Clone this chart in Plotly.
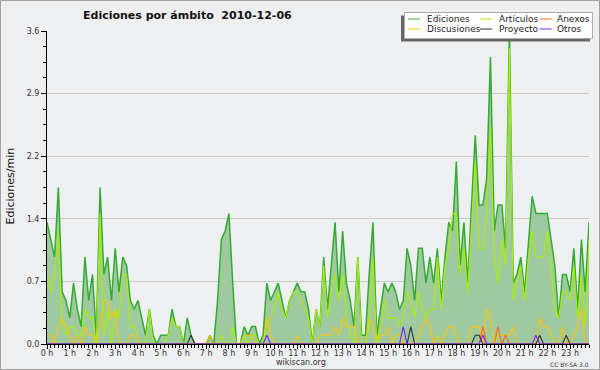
import plotly.graph_objects as go

# ---- data (10-minute slots, edits per minute) ----
slot_minutes = list(range(0, 1440, 10))

ediciones = [
    1.4, 1.2, 1.0, 1.8, 0.6, 0.5, 0.3, 0.7, 0.4, 0.2, 1.0, 0.5,
    0.8, 0.1, 1.8, 0.8, 1.0, 0.5, 1.1, 0.6, 1.0, 0.9, 0.5, 0.4,
    0.5, 0.3, 0.1, 0.4, 0.1, 0.0, 0.1, 0.1, 0.1, 0.4, 0.2, 0.2,
    0.0, 0.3, 0.1, 0.0, 0.0, 0.0, 0.0, 0.1, 0.0, 0.5, 1.2, 1.3,
    1.5, 0.7, 0.0, 0.0, 0.2, 0.1, 0.2, 0.2, 0.0, 0.1, 0.7, 0.5,
    0.6, 0.7, 0.5, 0.3, 0.5, 0.6, 0.7, 0.6, 0.6, 0.4, 0.0, 0.4,
    0.2, 1.0, 0.4, 0.9, 1.4, 0.6, 1.3, 0.7, 0.5, 0.2, 1.0, 0.1,
    0.1, 0.8, 1.4, 0.1, 0.4, 0.7, 0.6, 0.7, 0.6, 0.4, 0.5, 1.1,
    0.9, 0.5, 1.1, 1.1, 0.7, 1.0, 0.7, 1.1, 0.5, 1.0, 1.4, 1.3,
    2.1, 0.9, 1.4, 0.7, 1.6, 2.4, 1.6, 1.6, 1.9, 3.3, 1.3, 1.6,
    1.6, 1.1, 3.6, 0.7, 0.8, 1.0, 0.6, 1.2, 1.7, 1.5, 1.5, 1.5,
    1.5, 1.2, 0.9, 0.3, 0.8, 0.8, 0.6, 1.1, 0.4, 1.2, 0.6, 1.4,
]

articulos = [
    0.8, 0.6, 0.8, 1.3, 0.2, 0.1, 0.2, 0.2, 0.1, 0.1, 0.4, 0.3,
    0.3, 0.0, 1.5, 0.1, 0.4, 0.0, 0.4, 0.3, 0.8, 0.8, 0.2, 0.2,
    0.1, 0.0, 0.0, 0.4, 0.0, 0.0, 0.0, 0.0, 0.1, 0.3, 0.2, 0.2,
    0.0, 0.0, 0.0, 0.0, 0.0, 0.0, 0.0, 0.0, 0.0, 0.0, 0.1, 0.0,
    0.0, 0.2, 0.0, 0.0, 0.1, 0.0, 0.1, 0.1, 0.0, 0.0, 0.2, 0.3,
    0.4, 0.6, 0.4, 0.3, 0.5, 0.6, 0.6, 0.5, 0.4, 0.3, 0.0, 0.4,
    0.2, 0.9, 0.3, 0.6, 0.8, 0.5, 0.8, 0.3, 0.1, 0.0, 1.0, 0.0,
    0.0, 0.2, 1.0, 0.0, 0.2, 0.5, 0.3, 0.3, 0.3, 0.2, 0.3, 0.6,
    0.5, 0.3, 0.6, 0.4, 0.3, 0.4, 0.4, 1.0, 0.4, 0.9, 1.1, 1.5,
    1.5, 0.8, 1.1, 0.6, 1.3, 2.1, 1.1, 1.1, 1.5, 2.5, 1.0, 0.7,
    1.2, 0.9, 3.4, 0.5, 0.7, 0.9, 0.5, 1.0, 1.3, 1.0, 1.0, 1.0,
    1.3, 0.9, 0.4, 0.3, 0.6, 0.6, 0.5, 0.9, 0.3, 0.8, 0.2, 1.2,
]

discusiones = [
    0.1, 0.1, 0.0, 0.2, 0.3, 0.2, 0.1, 0.0, 0.1, 0.0, 0.2, 0.1,
    0.1, 0.0, 0.2, 0.5, 0.5, 0.3, 0.4, 0.0, 0.0, 0.0, 0.1, 0.1,
    0.0, 0.0, 0.0, 0.0, 0.0, 0.0, 0.0, 0.0, 0.0, 0.0, 0.0, 0.0,
    0.0, 0.0, 0.0, 0.0, 0.0, 0.0, 0.0, 0.1, 0.0, 0.0, 0.0, 0.0,
    0.0, 0.0, 0.0, 0.0, 0.1, 0.1, 0.1, 0.0, 0.0, 0.0, 0.3, 0.1,
    0.0, 0.0, 0.0, 0.0, 0.0, 0.0, 0.1, 0.0, 0.0, 0.0, 0.0, 0.0,
    0.1, 0.1, 0.1, 0.1, 0.2, 0.1, 0.3, 0.2, 0.2, 0.2, 0.0, 0.0,
    0.0, 0.3, 0.2, 0.0, 0.1, 0.1, 0.2, 0.0, 0.1, 0.1, 0.0, 0.0,
    0.0, 0.0, 0.1, 0.2, 0.3, 0.2, 0.0, 0.1, 0.0, 0.1, 0.2, 0.2,
    0.1, 0.0, 0.0, 0.0, 0.2, 0.2, 0.2, 0.0, 0.4, 0.3, 0.0, 0.1,
    0.1, 0.1, 0.1, 0.2, 0.0, 0.0, 0.0, 0.0, 0.0, 0.0, 0.3, 0.2,
    0.2, 0.1, 0.0, 0.0, 0.2, 0.0, 0.0, 0.1, 0.2, 0.4, 0.0, 0.0,
]

anexos = [
    0, 0, 0, 0, 0, 0, 0, 0, 0, 0, 0, 0,
    0, 0, 0, 0, 0, 0, 0, 0, 0, 0, 0, 0,
    0, 0, 0, 0, 0, 0, 0, 0, 0, 0, 0, 0,
    0, 0, 0, 0, 0, 0, 0, 0, 0, 0, 0, 0,
    0, 0, 0, 0, 0, 0, 0, 0, 0, 0, 0, 0,
    0, 0, 0, 0, 0, 0, 0, 0, 0, 0, 0, 0,
    0, 0, 0, 0, 0, 0, 0, 0, 0, 0, 0, 0,
    0, 0, 0, 0, 0, 0, 0, 0, 0, 0, 0, 0,
    0, 0, 0, 0, 0, 0, 0, 0, 0, 0, 0, 0,
    0, 0, 0, 0, 0, 0, 0, 0.2, 0, 0, 0, 0.2,
    0, 0.1, 0, 0, 0, 0, 0, 0, 0, 0, 0, 0,
    0, 0, 0, 0, 0, 0, 0, 0, 0, 0, 0, 0,
]

proyecto = [
    0, 0, 0, 0, 0, 0, 0, 0, 0, 0, 0, 0,
    0, 0, 0, 0, 0, 0, 0, 0, 0, 0, 0, 0,
    0, 0, 0, 0, 0, 0, 0, 0, 0, 0, 0, 0,
    0, 0, 0.1, 0, 0, 0, 0, 0, 0, 0, 0, 0,
    0, 0, 0, 0, 0, 0, 0, 0, 0, 0, 0, 0,
    0, 0, 0, 0, 0, 0, 0, 0, 0, 0, 0, 0,
    0, 0, 0, 0, 0, 0, 0, 0, 0, 0, 0, 0,
    0, 0, 0, 0, 0, 0, 0, 0, 0, 0, 0, 0,
    0.2, 0, 0, 0, 0, 0, 0, 0, 0, 0, 0, 0,
    0, 0, 0, 0, 0, 0.1, 0.1, 0, 0, 0, 0, 0,
    0, 0, 0, 0, 0, 0, 0, 0, 0, 0, 0.1, 0,
    0, 0, 0, 0, 0, 0.1, 0, 0, 0, 0, 0, 0,
]

otros = [
    0, 0, 0, 0, 0, 0, 0, 0, 0, 0, 0, 0,
    0, 0, 0, 0, 0, 0, 0, 0, 0, 0, 0, 0,
    0, 0, 0, 0, 0, 0, 0, 0, 0, 0, 0, 0,
    0, 0, 0, 0, 0, 0, 0, 0, 0, 0, 0, 0,
    0, 0, 0, 0, 0, 0, 0, 0, 0, 0, 0.1, 0,
    0, 0, 0, 0, 0, 0, 0, 0, 0, 0, 0, 0,
    0, 0, 0, 0, 0, 0, 0, 0, 0, 0, 0, 0,
    0, 0, 0, 0, 0, 0, 0, 0, 0, 0, 0.2, 0,
    0, 0, 0, 0, 0, 0, 0, 0, 0, 0, 0, 0,
    0, 0, 0, 0, 0, 0, 0, 0.1, 0, 0, 0, 0,
    0, 0, 0, 0, 0, 0, 0, 0, 0, 0.1, 0, 0,
    0, 0, 0, 0, 0, 0, 0, 0, 0, 0, 0, 0,
]

hour_ticks = list(range(0, 1440, 60))
hour_labels = ["0 h", "1 h", "2 h", "3 h", "4 h", "5 h", "6 h", "7 h", "8 h", "9 h",
               "10 h", "11 h", "12 h", "13 h", "14 h", "15 h", "16 h", "17 h", "18 h",
               "19 h", "20 h", "21 h", "22 h", "23 h"]
y_ticks = [0.0, 0.72, 1.44, 2.16, 2.88, 3.6]
y_labels = ["0.0", "0.7", "1.4", "2.2", "2.9", "3.6"]

series_names = ["Ediciones", "Artículos", "Anexos", "Discusiones", "Proyecto", "Otros"]
series_colors = {"Ediciones": "#33aa33", "Artículos": "#aaee00", "Anexos": "#ff6a1a",
                 "Discusiones": "#ffc400", "Proyecto": "#333333", "Otros": "#7a22ff"}

# ---- layout geometry (pixels) ----
W, H = 600, 370
L, R, T, B = 47, 11, 31, 26
PW, PH = W - L - R, H - T - B
BG = "#eeeff1"


def px(x):
    return (x - L) / PW


def py(y):
    return (H - B - y) / PH


fig = go.Figure()
fig.add_trace(go.Scatter(x=slot_minutes, y=ediciones, mode="lines", name="Ediciones",
                         fill="tozeroy", fillcolor="#9fca9f",
                         line=dict(color=series_colors["Ediciones"], width=1.5)))
fig.add_trace(go.Scatter(x=slot_minutes, y=discusiones, mode="lines", name="Discusiones",
                         line=dict(color=series_colors["Discusiones"], width=1.1)))
fig.add_trace(go.Scatter(x=slot_minutes, y=articulos, mode="lines", name="Artículos",
                         line=dict(color=series_colors["Artículos"], width=1.1)))
fig.add_trace(go.Scatter(x=slot_minutes, y=anexos, mode="lines", name="Anexos",
                         line=dict(color=series_colors["Anexos"], width=1.1)))
fig.add_trace(go.Scatter(x=slot_minutes, y=proyecto, mode="lines", name="Proyecto",
                         line=dict(color=series_colors["Proyecto"], width=1.1)))
fig.add_trace(go.Scatter(x=slot_minutes, y=otros, mode="lines", name="Otros",
                         line=dict(color=series_colors["Otros"], width=1.1)))

fig.update_layout(
    width=W, height=H, margin=dict(l=L, r=R, t=T, b=B, pad=0),
    paper_bgcolor=BG, plot_bgcolor=BG, showlegend=False,
    font=dict(family="DejaVu Sans", size=8, color="#333333"),
)
fig.update_xaxes(
    range=[0, 1430], tickmode="array", tickvals=hour_ticks, ticktext=hour_labels,
    ticks="outside", ticklen=4, tickwidth=1, tickcolor="black",
    showline=True, linecolor="black", linewidth=1, showgrid=False, zeroline=False,
    tickfont=dict(size=8, color="#333333"), ticklabelstandoff=-3,
    minor=dict(dtick=10, tick0=0, ticks="outside", ticklen=3, tickcolor="black", showgrid=False),
)
fig.update_yaxes(
    range=[0, 3.6], tickmode="array", tickvals=y_ticks, ticktext=y_labels,
    ticks="outside", ticklen=5, tickwidth=1, tickcolor="black",
    showline=True, linecolor="black", linewidth=1,
    showgrid=True, gridcolor="#c8c8c8", gridwidth=1, zeroline=False,
    tickfont=dict(size=8, color="#333333"),
    minor=dict(dtick=0.18, tick0=0, ticks="outside", ticklen=3, tickcolor="black", showgrid=False),
)

shapes = []
annotations = []

# outer border of the image
shapes.append(dict(type="rect", xref="paper", yref="paper", layer="above",
                   x0=px(0.5), x1=px(W - 0.5), y0=py(H - 0.5), y1=py(0.5),
                   line=dict(color="#a0a0a0", width=1), fillcolor="rgba(0,0,0,0)"))

# title, axis title, credits
annotations.append(dict(text="<b>Ediciones por ámbito\u00a0 2010-12-06</b>", xref="paper", yref="paper",
                        x=px(188), y=py(16), xanchor="center", yanchor="middle", showarrow=False,
                        font=dict(family="DejaVu Sans", size=11, color="#111111")))
annotations.append(dict(text="Ediciones/min", xref="paper", yref="paper", textangle=-90,
                        x=px(9.5), y=py(186), xanchor="center", yanchor="middle", showarrow=False,
                        font=dict(family="DejaVu Sans", size=11, color="#111111")))
annotations.append(dict(text="wikiscan.org", xref="paper", yref="paper",
                        x=px(301), y=py(362.5), xanchor="center", yanchor="middle", showarrow=False,
                        font=dict(family="DejaVu Sans", size=8, color="#333333")))
annotations.append(dict(text="CC BY-SA 3.0", xref="paper", yref="paper",
                        x=px(591), y=py(364), xanchor="right", yanchor="middle", showarrow=False,
                        font=dict(family="DejaVu Sans", size=6, color="#333333")))

# legend box with shadow
shapes.append(dict(type="rect", xref="paper", yref="paper", layer="above",
                   x0=px(401), x1=px(590), y0=py(41.5), y1=py(15.5),
                   line=dict(width=0), fillcolor="#666666"))
shapes.append(dict(type="rect", xref="paper", yref="paper", layer="above",
                   x0=px(404.5), x1=px(592.5), y0=py(38.5), y1=py(12.5),
                   line=dict(color="#aaaaaa", width=1), fillcolor="white"))

legend_cols = [(408, 424.5), (480, 496.5), (539.5, 555)]
legend_rows = [19, 29]
for k, name in enumerate(series_names):
    col, row = k % 3, k // 3
    sx, tx = legend_cols[col]
    yy = legend_rows[row]
    shapes.append(dict(type="line", xref="paper", yref="paper", layer="above",
                       x0=px(sx), x1=px(sx + 12), y0=py(yy), y1=py(yy),
                       line=dict(color=series_colors[name], width=1)))
    annotations.append(dict(text=name, xref="paper", yref="paper", x=px(tx), y=py(yy),
                            xanchor="left", yanchor="middle", showarrow=False,
                            font=dict(family="DejaVu Sans", size=9, color="#222222")))

fig.update_layout(shapes=shapes, annotations=annotations)
fig.write_html("out.html", config={"displayModeBar": False, "staticPlot": True},
               post_script="document.body.style.margin='0px';document.body.style.overflow='hidden';")
